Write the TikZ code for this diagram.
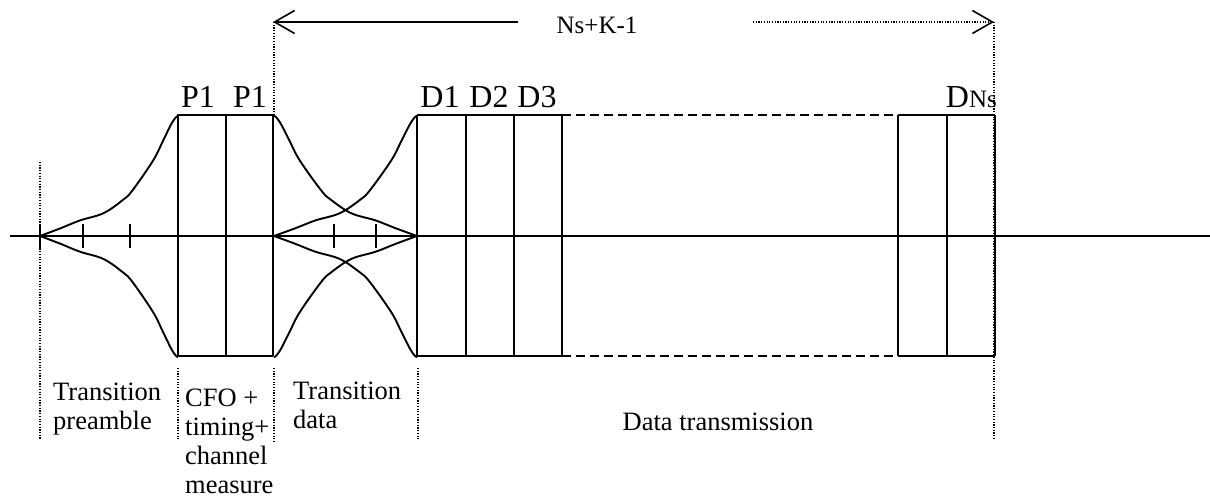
\documentclass[tikz,border=0pt]{standalone}
\usepackage{fontspec}
\setmainfont{Liberation Serif}
\usetikzlibrary{arrows.meta}

\begin{document}
\begin{tikzpicture}[x=1pt,y=-1pt,
  solidline/.style={line width=1.9pt, line join=round, line cap=butt},
  dotline/.style={line width=1.2pt, dash pattern=on 1.2pt off 1.5pt},
  dashline/.style={line width=1.9pt, dash pattern=on 9pt off 5pt},
  openhead/.style={-{Straight Barb[length=20pt,width=23pt,line width=1.6pt]}},
  biglabel/.style={font=\fontsize{32}{36}\selectfont, inner sep=0pt, anchor=base},
  smalllabel/.style={font=\fontsize{26.5}{29}\selectfont, inner sep=0pt, align=left, anchor=north west},
  envelope/.style={solidline, smooth, tension=0.6}]

\useasboundingbox (0,0) rectangle (1210,501);

% time axis
\draw[solidline] (10,236) -- (1210,236);

% envelope shape of one transition (normalised: 0..1 along, 0..1 up)
\def\envpts{(0,0) (0.15,0.065) (0.29,0.13) (0.46,0.19) (0.6,0.30) (0.67,0.38)
  (0.82,0.63) (0.89,0.79) (0.95,0.93) (0.985,0.99) (1,1)}

% transition preamble: rising envelopes
\begin{scope}[shift={(40,236)}, x=138pt, y=-121pt]
  \draw[envelope] plot coordinates {\envpts};
\end{scope}
\begin{scope}[shift={(40,236)}, x=138pt, y=120pt]
  \draw[envelope] plot coordinates {\envpts};
\end{scope}

% transition data: falling envelopes after the preamble
\begin{scope}[shift={(417,236)}, x=-143pt, y=-121pt]
  \draw[envelope] plot coordinates {\envpts};
\end{scope}
\begin{scope}[shift={(417,236)}, x=-143pt, y=120pt]
  \draw[envelope] plot coordinates {\envpts};
\end{scope}
% transition data: rising envelopes into the data symbols
\begin{scope}[shift={(274,236)}, x=143pt, y=-121pt]
  \draw[envelope] plot coordinates {\envpts};
\end{scope}
\begin{scope}[shift={(274,236)}, x=143pt, y=120pt]
  \draw[envelope] plot coordinates {\envpts};
\end{scope}

% ticks on the axis
\foreach \tx in {40,83,130,334,376}
  \draw[solidline] (\tx,224) -- (\tx,248);

% preamble symbols P1 P1
\draw[solidline] (178,115) rectangle (273,356);
\draw[solidline] (226,115) -- (226,356);

% data symbols
\draw[solidline] (417,115) -- (562,115);
\draw[solidline] (417,356) -- (562,356);
\draw[dashline] (562,115) -- (898,115);
\draw[dashline] (562,356) -- (898,356);
\draw[solidline] (898,115) -- (995,115);
\draw[solidline] (898,356) -- (995,356);
\foreach \dx in {417,466,514,562,898,995}
  \draw[solidline] (\dx,115) -- (\dx,356);
\draw[line width=2.6pt] (947,115) -- (947,356);

% dotted section boundaries
\draw[dotline] (40,162) -- (40,440);
\draw[dotline] (178,368) -- (178,440);
\draw[dotline] (274,22) -- (274,115);
\draw[dotline] (274,368) -- (274,442);
\draw[dotline] (418,368) -- (418,440);
\draw[dotline] (994,22) -- (994,440);

% span arrow Ns+K-1
\coordinate (spanL) at (273,22);
\coordinate (spanR) at (994,22);
\coordinate (spanA) at (518,22);
\coordinate (spanB) at (753,22);
\node[font=\fontsize{25}{28}\selectfont, inner sep=0pt, anchor=base] (span) at (597,33) {Ns+K-1};
\draw[solidline, openhead] (spanA) -- (spanL);
\draw[dotline, openhead] (spanB) -- (spanR);

% symbol labels
\node[biglabel] (p1a) at (198,107) {P1};
\node[biglabel] (p1b) at (250,107) {P1};
\node[biglabel] (d1) at (440,107) {D1};
\node[biglabel] (d2) at (489,107) {D2};
\node[biglabel] (d3) at (537,107) {D3};
\node[biglabel, anchor=base east] (dns) at (997,107) {D{\fontsize{25}{28}\selectfont Ns}};

% section captions
\node[smalllabel] (tpre) at (53,383) {Transition\\preamble};
\node[smalllabel] (cfo) at (185,389) {CFO +\\timing+\\channel\\measure};
\node[smalllabel] (tdata) at (293,382) {Transition\\data};
\node[font=\fontsize{26.5}{30}\selectfont, inner sep=0pt, anchor=base] (dtx) at (718,430) {Data transmission};

\end{tikzpicture}
\end{document}
